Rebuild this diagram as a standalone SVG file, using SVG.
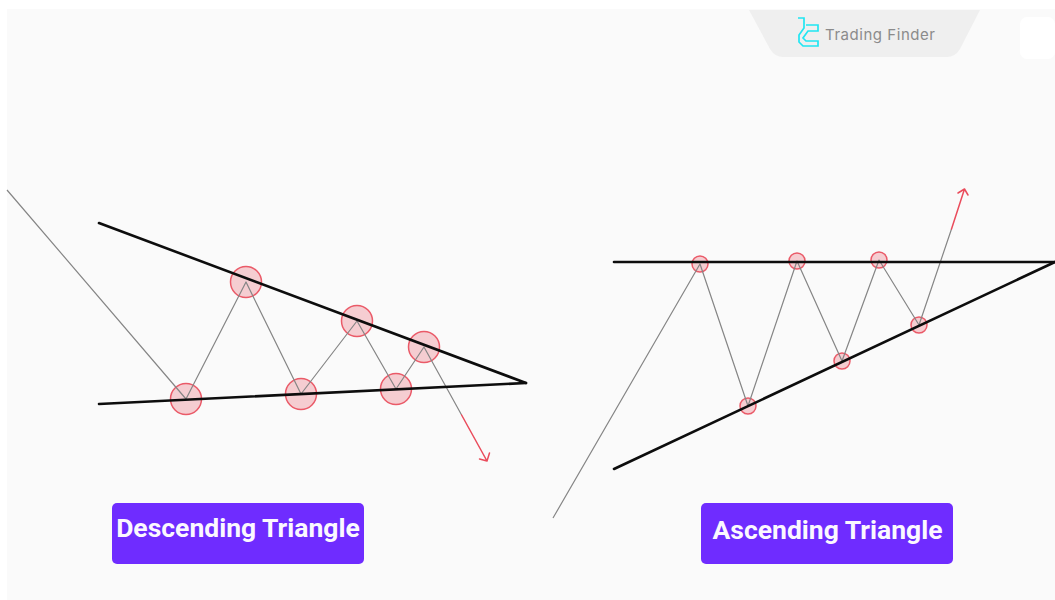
<svg xmlns="http://www.w3.org/2000/svg" width="1055" height="600" viewBox="0 0 1055 600">
<style>
.price{fill:none;stroke:#858585;stroke-width:1.2;stroke-linejoin:round}
.trend{fill:none;stroke:#0d0d0d;stroke-width:2.6;stroke-linecap:round}
.red{fill:none;stroke:#ea4c5c;stroke-width:1.5;stroke-linecap:round;stroke-linejoin:round}
.big{fill:#f5cdd1;stroke:#ea5a68;stroke-width:1.5}
.lbl{fill:#6f2cff}
.lt{font-family:Roboto,"Liberation Sans",sans-serif;font-weight:700;font-size:26.500px;fill:#fbf8ff;text-anchor:middle}
</style>
<rect width="1055" height="600" fill="#ffffff"/>
<rect x="7" y="9" width="1048" height="591" fill="#fafafa"/>
<g id="watermark">
<path d="M749 10H980L960 49Q955 57 947 57H783Q775 57 770 49Z" fill="#efefef"/>
<rect x="1020" y="17" width="35" height="42" rx="7" fill="#ffffff"/>
<path d="M798 18H804V28L799 35V42L803 46H818V41H806L803 38 808 31H818V25H806" fill="none" stroke="#20e6f2" stroke-width="1.700"/>
<text x="825" y="40" font-family="Inter,'Liberation Sans',sans-serif" font-size="15" fill="#8b8b8b" textLength="110">Trading Finder</text>
</g>
<g id="node-d1"><circle class="big" cx="186" cy="399" r="15.500"/></g>
<g id="node-d2"><circle class="big" cx="246" cy="282" r="15.500"/></g>
<g id="node-d3"><circle class="big" cx="301" cy="394" r="15.500"/></g>
<g id="node-d4"><circle class="big" cx="357" cy="321" r="15.500"/></g>
<g id="node-d5"><circle class="big" cx="396" cy="389" r="15.500"/></g>
<g id="node-d6"><circle class="big" cx="424" cy="347" r="15.500"/></g>
<g id="node-a1"><circle class="big" cx="700" cy="264" r="8"/></g>
<g id="node-a2"><circle class="big" cx="748" cy="406" r="8"/></g>
<g id="node-a3"><circle class="big" cx="797" cy="261" r="8"/></g>
<g id="node-a4"><circle class="big" cx="842" cy="361" r="8"/></g>
<g id="node-a5"><circle class="big" cx="879" cy="260" r="8"/></g>
<g id="node-a6"><circle class="big" cx="919" cy="325" r="8"/></g>
<g id="connectors">
<polyline class="price" points="7,190 186,399 246,282 301,394 357,321 396,389 424,347 461.600,415"/>
<polyline class="price" points="553,518 700,264 748,406 797,261 842,361 879,260 919,325 951.500,229"/>
<line class="trend" x1="99" y1="223" x2="526" y2="383"/>
<line class="trend" x1="99" y1="404" x2="526" y2="383"/>
<line class="trend" x1="614" y1="262" x2="1055" y2="262"/>
<line class="trend" x1="614" y1="469" x2="1055" y2="262"/>
<path class="red" d="M461.600 415L487 461M479.500 459L487 461 489.500 453"/>
<path class="red" d="M951.500 229L964.500 189M958 193L964.500 189 968 195"/>
</g>
<g id="label-descending">
<rect class="lbl" x="112" y="503" width="252" height="61" rx="5"/>
<text class="lt" x="238" y="537">Descending Triangle</text>
</g>
<g id="label-ascending">
<rect class="lbl" x="701" y="503" width="252" height="61" rx="5"/>
<text class="lt" x="827.500" y="539">Ascending Triangle</text>
</g>
</svg>
